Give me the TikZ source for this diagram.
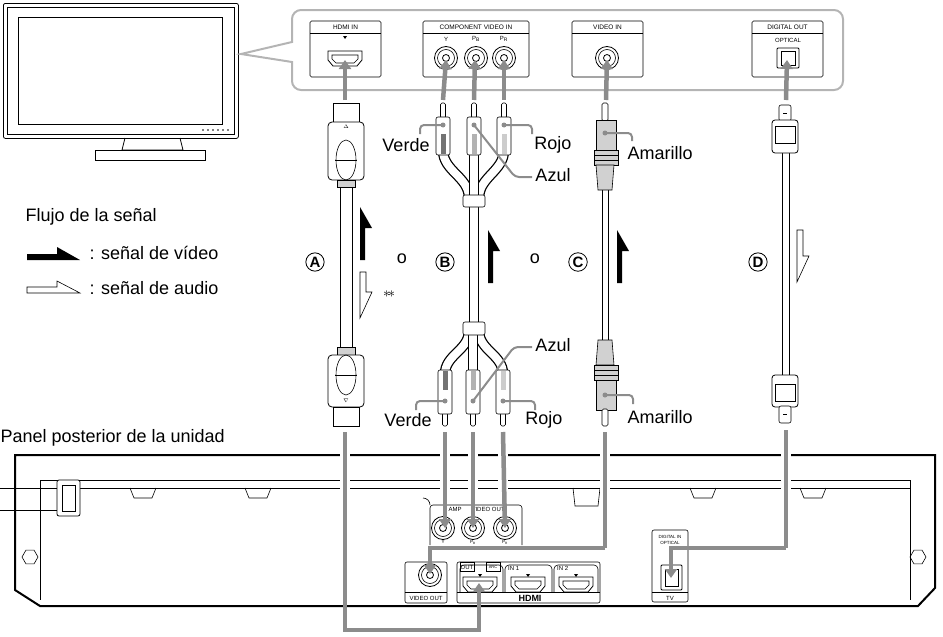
\documentclass[tikz,border=0pt]{standalone}
\usepackage{fontspec}
\setmainfont{Liberation Sans}
\usetikzlibrary{arrows.meta,shapes.geometric}
\definecolor{ag}{HTML}{8C8C8C}
\definecolor{pl}{HTML}{B4B4B4}
\colorlet{plugfill}{black!18}
\newcommand\VidUp[3]{\fill (#1,#2) -- (#1,#3) -- (#1+12,#3+21) -- (#1+5,#3+21) -- (#1+5,#2) -- cycle;}
\newcommand\AudDown[3]{\draw[semithick,fill=white] (#1,#2) -- (#1,#3) -- (#1+12,#3-26) -- (#1+6,#3-26) -- (#1+6,#2) -- cycle;}
\newcommand\RcaJack[2]{\draw[thick] (#1,#2) circle (11.5); \draw[semithick] (#1,#2) circle (8.5); \draw[thick] (#1,#2) circle (3.5);}
\newcommand\HPort[2]{\draw[thick] (#1-17,#2-7) -- (#1+17,#2-7) -- (#1+17,#2+2) -- (#1+12,#2+8) -- (#1-12,#2+8) -- (#1-17,#2+2) -- cycle;
 \draw[semithick] (#1-13,#2-3) -- (#1+13,#2-3) -- (#1+13,#2+1) -- (#1+9,#2+5) -- (#1-9,#2+5) -- (#1-13,#2+1) -- cycle;}
\newcommand\RcaTop[3]{% x, shade
 \draw[semithick,fill=white,rounded corners=1.5] (#1-2.5,103) rectangle (#1+2.5,118);
 \draw[semithick,fill=white,rounded corners=2] (#1-7,117) rectangle (#1+7,155);
 \fill[#2] (#1-2.5,134) rectangle (#1+2.5,154);
 \fill[ag] (#1,#3) circle (2.5);}
\newcommand\RcaBot[3]{%
 \draw[semithick,fill=white,rounded corners=1.5] (#1-2.5,411) rectangle (#1+2.5,426);
 \draw[semithick,fill=white,rounded corners=2] (#1-7,370) rectangle (#1+7,414);
 \fill[#2] (#1-2.5,371) rectangle (#1+2.5,390);
 \fill[ag] (#1,#3) circle (2.5);}
\begin{document}
\begin{tikzpicture}[x=1pt,y=-1pt,
  gar/.style={draw=ag,line width=4.5pt,-{Triangle[length=9pt,width=12pt]}},
  gln/.style={draw=ag,line width=4.5pt},
  halo/.style={draw=white,line width=10pt},
  lead/.style={draw=ag,line width=2pt,rounded corners=4},
  lbl/.style={font=\fontsize{18}{20}\selectfont},
  tiny/.style={font=\fontsize{6}{6}\selectfont,inner sep=0pt},
  circ/.style={circle,draw,thick,inner sep=1.2pt,font=\fontsize{15}{15}\selectfont\bfseries},
  cab/.style={draw=white,line width=8pt,preaction={draw=black,line width=10.5pt}}]
\useasboundingbox (0,0) rectangle (943,637);
% TV
\node[draw,thick,rounded corners=2,minimum width=235,minimum height=135,anchor=north west] (tv) at (3,3) {};
\draw[semithick] (7,7) rectangle (234,134);
\draw[thick] (18,17) rectangle (222,124);
\foreach \i in {0,...,5} \fill (203+\i*5,130) circle (0.8);
\draw[thick] (125,138) -- (122,150) -- (183,150) -- (180,138);
\draw[thick,fill=white] (95,150) rectangle (205,160);
% callout
\draw[pl,line width=2pt] (292,42) [rounded corners=9] -- (292,10) -- (843,10) -- (843,90) -- (292,90) [sharp corners] -- (292,62) -- (241,54) -- cycle;
% panel boxes
\foreach \a/\b/\t in {310/381/HDMI IN,423/529/COMPONENT VIDEO IN,572/643/VIDEO IN,752/823/DIGITAL OUT}{
  \draw[semithick,rounded corners=1.5] (\a,21) rectangle (\b,77);
  \draw[semithick] (\a,33) -- (\b,33);
  \node[tiny,font=\fontsize{6.5}{6.5}\selectfont] at ({(\a+\b)/2},27.5) {\t};}
\fill (343,36) -- (347,36) -- (345,39) -- cycle;
\HPort{345}{58}
\node[tiny] at (446,39) {Y};
\node[tiny] at (476,39) {P\textsubscript{B}};
\node[tiny] at (504,39) {P\textsubscript{R}};
\RcaJack{446}{58}\RcaJack{476}{58}\RcaJack{504}{58}\RcaJack{607}{58}
\node[tiny] at (788,40) {OPTICAL};
\draw[thick,rounded corners=1] (777,48) rectangle (799,68);
\draw[semithick] (781,51) -- (795,51) -- (795,65) -- (781,65) -- cycle;
\coordinate (jA) at (345,60); \coordinate (jY) at (446,60); \coordinate (jB) at (476,60);
\coordinate (jR) at (504,60); \coordinate (jV) at (607,60); \coordinate (jO) at (788,60);
\coordinate (tA) at (345,100); \coordinate (tY) at (443,100); \coordinate (tB) at (474,100);
\coordinate (tR) at (504,100); \coordinate (tV) at (606,100); \coordinate (tO) at (786,100);
\draw[gar] (tA) -- (jA); \draw[gar] (tY) -- (446,60); \draw[gar] (tB) -- (475,60);
\draw[gar] (tR) -- (jR); \draw[gar] (tV) -- (jV); \draw[gar] (tO) -- (787,60);
% ---- cable A (HDMI)
\draw[semithick] (340,186) -- (340,347) (352,186) -- (352,347);
\draw[thick,fill=white] (333,103) rectangle (359,122);
\draw[thick,fill=white,rounded corners=4] (328,122) rectangle (364,180);
\draw[semithick] (346,160) ellipse (10 and 20);
\draw (335,160) -- (357,160);
\node[tiny,font=\fontsize{5}{5}\selectfont] at (346,127) {$\Delta$};
\draw[semithick,fill=plugfill] (337,180) rectangle (355,187);
\draw[semithick,fill=plugfill] (337,347) rectangle (355,355);
\draw[thick,fill=white,rounded corners=4] (328,355) rectangle (364,407);
\draw[semithick] (346,375) ellipse (10 and 20);
\draw (335,375) -- (357,375);
\node[tiny,font=\fontsize{5}{5}\selectfont] at (346,401) {$\nabla$};
\draw[thick,fill=white] (333,407) rectangle (359,426);
% ---- cable B (component)
\draw[cab] (443,150) to[out=-90,in=90] (469,198);
\draw[cab] (504,150) to[out=-90,in=90] (479,198);
\draw[cab] (474,150) -- (474,198);
\draw[cab] (474,205) -- (474,324);
\draw[cab] (445,374) to[out=90,in=-90] (469,331);
\draw[cab] (503,374) to[out=90,in=-90] (479,331);
\draw[cab] (473,374) -- (473,331);
\draw[semithick,fill=white,rounded corners=2] (463,195) rectangle (485,207);
\draw[semithick,fill=white,rounded corners=2] (463,322) rectangle (485,335);
\RcaTop{443}{gray!90!black}{125}\RcaTop{474}{gray!60}{125}\RcaTop{504}{gray!40}{125}
\RcaBot{445}{gray!90!black}{401}\RcaBot{473}{gray!60}{401}\RcaBot{503}{gray!40}{401}
% leaders
\draw[lead] (443,125) -- (420,125) -- (420,134);
\draw[lead] (504,125) -- (532,125) -- (532,134);
\draw[lead] (474,125) -- (515,177) -- (532,177);
\node[lbl] (verde1) at (406,145) {Verde};
\node[lbl] (rojo1) at (553,145) {Rojo};
\node[lbl] (azul1) at (553,175) {Azul};
\draw[lead] (445,401) -- (416,401) -- (416,410);
\draw[lead] (503,401) -- (535,401) -- (535,410);
\draw[lead] (473,401) -- (514,347) -- (532,347);
\node[lbl] (verde2) at (408,420) {Verde};
\node[lbl] (rojo2) at (544,420) {Rojo};
\node[lbl] (azul2) at (553,345) {Azul};
% ---- cable C (video)
\draw[semithick] (602,190) -- (602,340) (608,190) -- (608,340);
\draw[semithick,fill=white,rounded corners=1.5] (602,103) rectangle (608,121);
\draw[semithick,fill=plugfill] (596,120) rectangle (616,150);
\draw[semithick,fill=plugfill] (594,150) rectangle (618,165);
\draw (594,155) -- (618,155) (594,160) -- (618,160);
\draw[semithick,fill=plugfill] (596,165) -- (614,165) -- (612,190) -- (598,190) -- cycle;
\fill[ag] (605,133) circle (2.5);
\draw[lead] (605,133) -- (632,133) -- (632,141);
\node[lbl,anchor=west] (ama1) at (624,153) {Amarillo};
\draw[semithick,fill=plugfill] (598,340) -- (612,340) -- (614,365) -- (596,365) -- cycle;
\draw[semithick,fill=plugfill] (594,365) rectangle (618,380);
\draw (594,370) -- (618,370) (594,375) -- (618,375);
\draw[semithick,fill=plugfill] (596,380) rectangle (616,410);
\draw[semithick,fill=white,rounded corners=1.5] (602,409) rectangle (608,426);
\fill[ag] (605,395) circle (2.5);
\draw[lead] (605,395) -- (633,395) -- (633,404);
\node[lbl,anchor=west] (ama2) at (624,417) {Amarillo};
% ---- cable D (optical)
\draw[semithick] (782,153) -- (782,375) (789,153) -- (789,375);
\draw[semithick,fill=white,rounded corners=2] (779,105) rectangle (791,121);
\draw (783,113) -- (787,113);
\draw[thick,fill=white,rounded corners=3] (772,120) rectangle (798,153);
\draw[semithick] (775,126) rectangle (795,143);
\draw[thick,fill=white,rounded corners=3] (772,375) rectangle (798,407);
\draw[semithick] (775,384) rectangle (795,401);
\draw[semithick,fill=white,rounded corners=2] (779,406) rectangle (791,423);
\draw (783,414) -- (787,414);
% signal arrows and labels
\VidUp{360}{260}{207}
\AudDown{360}{272}{318}
\node[font=\fontsize{14}{14}\selectfont] at (389,294) {$\ast\!\ast$};
\VidUp{488}{283}{230}
\VidUp{617}{283}{230}
\AudDown{797}{230}{282}
\node[circ] (cA) at (315,262) {A};
\node[circ] (cB) at (445,262) {B};
\node[circ] (cC) at (578,262) {C};
\node[circ] (cD) at (758,262) {D};
\node[lbl] (o1) at (402,259) {o};
\node[lbl] (o2) at (535,259) {o};
% legend
\node[lbl,anchor=west] (flujo) at (22,217) {Flujo de la señal};
\fill (27,254) -- (57,254) -- (57,247) -- (80,260) -- (27,260) -- cycle;
\node[lbl,anchor=west] (lv) at (86,253) {: señal de vídeo};
\draw[semithick,fill=white] (27,287) -- (57,287) -- (57,281) -- (80,293) -- (27,293) -- cycle;
\node[lbl,anchor=west] (la) at (86,288) {: señal de audio};
\node[lbl,anchor=west] (panel) at (-3,438) {Panel posterior de la unidad};
% ---- rear panel of unit
\draw[line width=2pt] (15,455) -- (935,455) -- (935,588) -- (918,606) -- (40,606) -- (15,590) -- cycle;
\draw[semithick] (40,480) -- (910,480);
\draw[semithick] (40,488) -- (910,488);
\draw[semithick] (40,480) -- (40,600) (910,480) -- (910,600);
\foreach \a in {130,245,690,800} \draw[semithick] (\a,488) -- (\a+4,498) -- (\a+22,498) -- (\a+26,488);
\draw[semithick] (573,488) -- (575,506) -- (598,506) -- (600,488);
\node[regular polygon,regular polygon sides=6,draw,semithick,minimum size=16,inner sep=0] (nutL) at (30,557) {};
\node[regular polygon,regular polygon sides=6,draw,semithick,minimum size=16,inner sep=0] (nutR) at (918,557) {};
\draw[thick] (0,488) -- (58,488) (0,510) -- (58,510);
\draw[thick,fill=white,rounded corners=2] (57,480) rectangle (80,516);
\draw[semithick] (62,485) rectangle (75,511);
% component out
\draw[semithick,rounded corners=3] (430,545) -- (430,505) -- (522,505) -- (522,545);
\draw[semithick] (423,498) to[out=0,in=90] (430,505);
\node[tiny] at (455,509) {AMP};
\node[tiny] at (488,509) {VIDEO OUT};
\RcaJack{443}{528}\RcaJack{473}{528}\RcaJack{505}{528}
\node[tiny,font=\fontsize{4.5}{4.5}\selectfont] at (443,542) {Y};
\node[tiny,font=\fontsize{4.5}{4.5}\selectfont] at (473,542) {P\textsubscript{B}};
\node[tiny,font=\fontsize{4.5}{4.5}\selectfont] at (505,542) {P\textsubscript{R}};
% video out
\draw[semithick,rounded corners=2] (405,562) rectangle (447,603);
\draw[semithick] (405,592) -- (447,592);
\node[tiny] at (426,598) {VIDEO OUT};
\RcaJack{430}{575}
% HDMI group
\draw[semithick,rounded corners=2] (457,562) rectangle (600,603);
\draw[semithick] (457,592) -- (600,592);
\foreach \a/\b in {460/503,505/552,554/598} \draw[semithick,rounded corners=4] (\a,592) -- (\a,565) -- (\b,565) -- (\b,592);
\draw[semithick] (460,562) rectangle (474,571); \node[tiny] at (467,567) {OUT};
\draw[semithick] (486,562) rectangle (500,571); \node[tiny,font=\fontsize{4}{4}\selectfont] at (493,567) {ARC};
\node[tiny,anchor=west] at (508,568) {IN 1};
\node[tiny,anchor=west] at (557,568) {IN 2};
\HPort{480}{584}\HPort{528}{584}\HPort{576}{584}
\foreach \x in {480,528,576} \fill (\x-2,574) -- (\x+2,574) -- (\x,577) -- cycle;
\node[inner sep=0,font=\fontsize{9}{9}\selectfont\bfseries] at (530,598) {HDMI};
% digital in optical
\draw[semithick,rounded corners=2] (652,530) rectangle (688,602);
\draw[semithick] (652,592) -- (688,592);
\node[tiny,font=\fontsize{4.5}{4.5}\selectfont] at (670,537) {DIGITAL IN};
\node[tiny,font=\fontsize{4.5}{4.5}\selectfont] at (670,543) {OPTICAL};
\node[tiny] at (670,598) {TV};
\draw[thick,rounded corners=1] (661,565) rectangle (682,590);
\draw[semithick] (665,569) rectangle (678,586);
% ---- gray connections to unit
\coordinate (bA) at (345,432); \coordinate (bY) at (445,432); \coordinate (bB) at (473,432);
\coordinate (bR) at (503,432); \coordinate (bV) at (605,432); \coordinate (bO) at (786,430);
\coordinate (oY) at (443,528); \coordinate (oB) at (473,528); \coordinate (oR) at (505,528);
\coordinate (oV) at (430,574); \coordinate (oH) at (479,583); \coordinate (oO) at (671,578);
\foreach \p/\q in {bA/345,bY/445,bB/473,bR/503,bV/605,bO/786} \draw[halo] (\q,452) -- (\q,492);
\draw[gar] (bY) -- (445,528); \draw[gar] (bB) -- (oB); \draw[gar] (bR) -- (505,528);
\draw[gln] (bV) -- (605,548); \draw[gar] (605,548) -| (oV);
\draw[gln] (bO) -- (786,548); \draw[gar] (786,548) -| (oO);
\draw[gar] (bA) |- (479,630) -- (oH);
\end{tikzpicture}
\end{document}
